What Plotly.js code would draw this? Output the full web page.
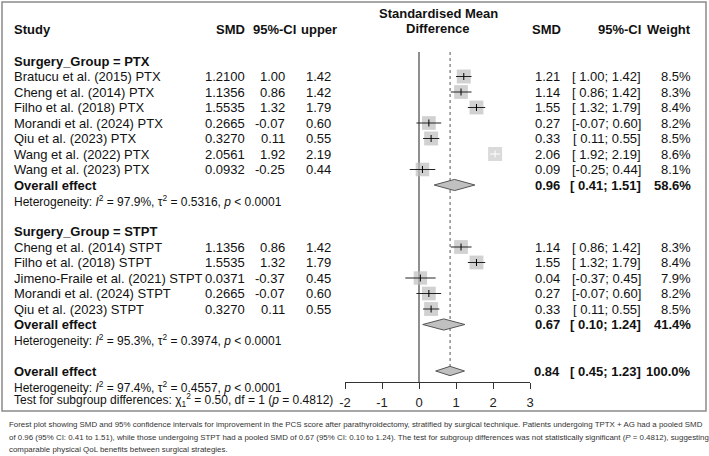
<!DOCTYPE html>
<html><head><meta charset="utf-8">
<script src="https://cdn.plot.ly/plotly-3.0.1.min.js"></script>
<style>html,body{margin:0;padding:0;background:#fff}</style>
</head><body><div id="chart" style="width:709px;height:456px"></div>
<script>
// ---------------- data ----------------
const ptxStudies = ["Bratucu et al. (2015) PTX", "Cheng et al. (2014) PTX", "Filho et al. (2018) PTX", "Morandi et al. (2024) PTX", "Qiu et al. (2023) PTX", "Wang et al. (2022) PTX", "Wang et al. (2023) PTX"];
const ptxSMD = [1.2100, 1.1356, 1.5535, 0.2665, 0.3270, 2.0561, 0.0932];
const ptxLower = [1.00, 0.86, 1.32, -0.07, 0.11, 1.92, -0.25];
const ptxUpper = [1.42, 1.42, 1.79, 0.60, 0.55, 2.19, 0.44];
const ptxWeight = [8.5, 8.3, 8.4, 8.2, 8.5, 8.6, 8.1];

const stptStudies = ["Cheng et al. (2014) STPT", "Filho et al. (2018) STPT", "Jimeno-Fraile et al. (2021) STPT", "Morandi et al. (2024) STPT", "Qiu et al. (2023) STPT"];
const stptSMD = [1.1356, 1.5535, 0.0371, 0.2665, 0.3270];
const stptLower = [0.86, 1.32, -0.37, -0.07, 0.11];
const stptUpper = [1.42, 1.79, 0.45, 0.60, 0.55];
const stptWeight = [8.3, 8.4, 7.9, 8.2, 8.5];

const groupNames = ["PTX", "STPT"];
const groupSMD = [0.96, 0.67];
const groupLower = [0.41, 0.10];
const groupUpper = [1.51, 1.24];
const groupWeight = [58.6, 41.4];
const groupI2 = ["97.9%", "95.3%"];
const groupTau2 = ["0.5316", "0.3974"];
const groupP = ["0.0001", "0.0001"];

const overallSMD = 0.84, overallLower = 0.45, overallUpper = 1.23, overallWeight = 100.0;
const overallI2 = "97.4%", overallTau2 = "0.4557", overallP = "0.0001";
const subgroupChi2 = "0.50", subgroupDf = 1, subgroupP = "0.4812";

const axisTicks = [-2, -1, 0, 1, 2, 3];

const captionLines = [
  "Forest plot showing SMD and 95% confidence intervals for improvement in the PCS score after parathyroidectomy, stratified by surgical technique. Patients undergoing TPTX + AG had a pooled SMD",
  "of 0.96 (95% CI: 0.41 to 1.51), while those undergoing STPT had a pooled SMD of 0.67 (95% CI: 0.10 to 1.24). The test for subgroup differences was not statistically significant (<i>P</i> = 0.4812), suggesting",
  "comparable physical QoL benefits between surgical strategies."
];

// ---------------- geometry ----------------
const W = 709, H = 456;
const Y0 = 61, RH = 15.5;              // pixel y of row 0, row height
const AX_L = 345, AX_R = 530, AX_Y = 382;
const pxPerUnit = (AX_R - AX_L) / (axisTicks[axisTicks.length-1] - axisTicks[0]);
const rowOfPx = p => (p - Y0) / RH;
const FONT = "Liberation Sans, Arial, Helvetica, sans-serif";
const TXT = "#111";

const groups = [
  {name: groupNames[0], studies: ptxStudies, smd: ptxSMD, lo: ptxLower, hi: ptxUpper, w: ptxWeight},
  {name: groupNames[1], studies: stptStudies, smd: stptSMD, lo: stptLower, hi: stptUpper, w: stptWeight}
];

const ann = [];
function A(xpx, r, text, o) {
  o = o || {};
  ann.push({
    xref: "paper", x: xpx / W, yref: "y", y: r,
    xanchor: o.anchor || "right", yanchor: "middle",
    text: text, showarrow: false,
    font: {family: FONT, size: o.size || 13, color: o.color || TXT}
  });
}
const f2 = v => v.toFixed(2);
const ciText = (lo, hi) => "[" + (lo < 0 ? "" : " ") + f2(lo) + "; " + f2(hi) + "]";

// headers
const rHead = rowOfPx(29);
A(12, rHead, "<b>Study</b>", {anchor: "left"});
A(247, rHead, "<b>SMD</b>");
A(298, rHead, "<b>95%-CI</b>");
A(339, rHead, "<b>upper</b>");
A(438, rowOfPx(13), "<b>Standardised Mean</b>", {anchor: "center"});
A(438, rowOfPx(28.5), "<b>Difference</b>", {anchor: "center"});
A(563, rHead, "<b>SMD</b>");
A(643, rHead, "<b>95%-CI</b>");
A(693, rHead, "<b>Weight</b>");

// marks
const sqX = [], sqY = [], sqS = [], sqC = [];
const ciX = [], ciY = [], ciInX = [], ciInY = [];
const ptX = [], ptY = [], ptInX = [], ptInY = [];
const diamonds = [];
const maxW = Math.max(...ptxWeight, ...stptWeight);
const BOX = 14;

let r = 0;
groups.forEach((g, gi) => {
  A(12, r, "<b>Surgery_Group = " + g.name + "</b>", {anchor: "left"});
  g.studies.forEach((s, i) => {
    const rr = r + 1 + i;
    A(12, rr, s, {anchor: "left"});
    A(247, rr, g.smd[i].toFixed(4));
    A(287, rr, f2(g.lo[i]));
    A(333, rr, f2(g.hi[i]));
    A(562, rr, f2(g.smd[i]));
    A(643, rr, ciText(g.lo[i], g.hi[i]));
    A(693, rr, g.w[i].toFixed(1) + "%");
    const size = BOX * Math.sqrt(g.w[i] / maxW);
    const inside = (g.hi[i] - g.lo[i]) * pxPerUnit < size;
    sqX.push(g.smd[i]); sqY.push(rr); sqS.push(size);
    sqC.push(inside ? "#cacaca" : "#bdbdbd");
    if (inside) { ciInX.push(g.lo[i], g.hi[i], null); ciInY.push(rr, rr, null); ptInX.push(g.smd[i]); ptInY.push(rr); }
    else { ciX.push(g.lo[i], g.hi[i], null); ciY.push(rr, rr, null); ptX.push(g.smd[i]); ptY.push(rr); }
  });
  const ro = r + g.studies.length + 1;
  A(12, ro, "<b>Overall effect</b>", {anchor: "left"});
  A(562, ro, "<b>" + f2(groupSMD[gi]) + "</b>");
  A(643, ro, "<b>" + ciText(groupLower[gi], groupUpper[gi]) + "</b>");
  A(693, ro, "<b>" + groupWeight[gi].toFixed(1) + "%</b>");
  diamonds.push({lo: groupLower[gi], est: groupSMD[gi], hi: groupUpper[gi], r: ro, h: 0.36});
  A(12, ro + 1, "Heterogeneity: <i>I</i><sup>2</sup> = " + groupI2[gi] + ", τ<sup>2</sup> = " + groupTau2[gi] + ", <i>p</i> &lt; " + groupP[gi], {anchor: "left", size: 12});
  r = ro + 3;
});
const rOv = r;
A(12, rOv, "<b>Overall effect</b>", {anchor: "left"});
A(562, rOv, "<b>" + f2(overallSMD) + "</b>");
A(643, rOv, "<b>" + ciText(overallLower, overallUpper) + "</b>");
A(693, rOv, "<b>" + overallWeight.toFixed(1) + "%</b>");
diamonds.push({lo: overallLower, est: overallSMD, hi: overallUpper, r: rOv, h: 0.3});
A(12, rOv + 1, "Heterogeneity: <i>I</i><sup>2</sup> = " + overallI2 + ", τ<sup>2</sup> = " + overallTau2 + ", <i>p</i> &lt; " + overallP, {anchor: "left", size: 12});
A(12, rOv + 1.85, "Test for subgroup differences: χ<sub>1</sub><sup>2</sup> = " + subgroupChi2 + ", df = " + subgroupDf + " (<i>p</i> = " + subgroupP + ")", {anchor: "left", size: 12});

// caption
const capY = [424, 437, 449];
captionLines.forEach((t, i) => ann.push({
  xref: "paper", x: 7 / W, yref: "paper", y: 1 - capY[i] / H,
  xanchor: "left", yanchor: "middle", showarrow: false, text: t,
  font: {family: FONT, size: 7.9, color: "#333"}
}));

const traces = [];
// reference lines
const rTop = rowOfPx(52);
traces.push({x: [0, 0], y: [rTop, rowOfPx(AX_Y)], mode: "lines", line: {color: "#444", width: 1.2}, hoverinfo: "skip"});
traces.push({x: [overallSMD, overallSMD], y: [rTop, rOv - 0.3], mode: "lines", line: {color: "#555", width: 1, dash: "dot"}, hoverinfo: "skip"});
// squares
traces.push({x: sqX, y: sqY, mode: "markers", marker: {symbol: "square", size: sqS, color: sqC, line: {width: 0}}, hoverinfo: "skip"});
// CI lines
traces.push({x: ciX, y: ciY, mode: "lines", line: {color: "#222", width: 1}, hoverinfo: "skip"});
traces.push({x: ciInX, y: ciInY, mode: "lines", line: {color: "#fff", width: 1}, hoverinfo: "skip"});
traces.push({x: ptX, y: ptY, mode: "markers", marker: {symbol: "line-ns", size: 5, line: {color: "#000", width: 1}}, hoverinfo: "skip"});
traces.push({x: ptInX, y: ptInY, mode: "markers", marker: {symbol: "line-ns", size: 5, line: {color: "#fff", width: 1}}, hoverinfo: "skip"});
// diamonds
diamonds.forEach(d => traces.push({
  x: [d.lo, d.est, d.hi, d.est, d.lo], y: [d.r, d.r - d.h, d.r, d.r + d.h, d.r],
  mode: "lines", fill: "toself", fillcolor: "#c0c0c0", line: {color: "#555", width: 1}, hoverinfo: "skip"
}));

const layout = {
  width: W, height: H, margin: {l: 0, r: 0, t: 0, b: 0},
  paper_bgcolor: "#fff", plot_bgcolor: "rgba(0,0,0,0)",
  showlegend: false,
  font: {family: FONT, size: 13, color: TXT},
  xaxis: {
    domain: [AX_L / W, AX_R / W], range: [axisTicks[0], axisTicks[axisTicks.length-1]],
    anchor: "free", position: 1 - AX_Y / H,
    showline: true, linecolor: "#333", linewidth: 1,
    ticks: "outside", ticklen: 6, tickcolor: "#333", tickwidth: 1,
    tickvals: axisTicks, ticktext: axisTicks.map(String),
    tickfont: {family: FONT, size: 13, color: "#222"}, ticklabelstandoff: 2,
    showgrid: false, zeroline: false, fixedrange: true
  },
  yaxis: {domain: [0, 1], range: [(H - Y0) / RH, -Y0 / RH], visible: false, fixedrange: true},
  shapes: [{type: "rect", xref: "paper", yref: "paper", x0: 2 / W, x1: 706 / W, y0: 1 - 411 / H, y1: 1 - 2 / H,
            line: {color: "#8a8a8a", width: 1.5}, fillcolor: "rgba(0,0,0,0)"}],
  annotations: ann
};

Plotly.newPlot("chart", traces, layout, {staticPlot: true, displayModeBar: false});
</script>
</body></html>
